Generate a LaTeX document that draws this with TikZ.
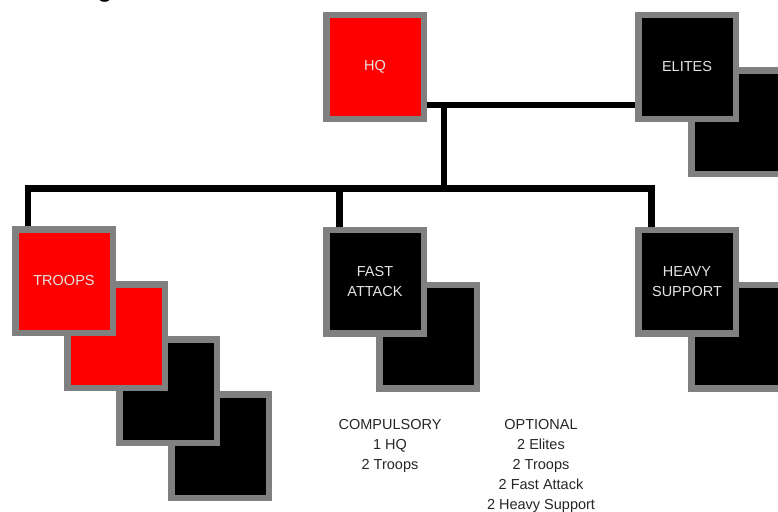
\documentclass[tikz,border=0pt]{standalone}
\usepackage{fontspec}
\setmainfont{Liberation Sans}
\usetikzlibrary{calc, backgrounds}
\definecolor{unitred}{RGB}{255,0,0}
\definecolor{rimgray}{RGB}{128,128,128}
\definecolor{captext}{RGB}{228,228,228}
\tikzset{
  unit/.style={rectangle, draw=rimgray, line width=6.5pt, minimum width=97.5pt,
    minimum height=103.5pt, inner sep=0pt, outer sep=0pt, align=center,
    text=captext, font=\fontsize{14.5}{20}\selectfont},
  redunit/.style={unit, fill=unitred},
  blackunit/.style={unit, fill=black},
  wire/.style={line width=6.5pt, black, line join=miter},
  note/.style={align=center, inner sep=0pt, text=black!85,
    font=\fontsize{14.5}{20}\selectfont},
}

\begin{document}
\begin{tikzpicture}[x=1pt, y=-1pt]
  \useasboundingbox (0,0) rectangle (778,511);
  \node[anchor=base, inner sep=0pt, font=\fontsize{28}{30}\selectfont] (title) at (105,-3.5) {g};
  % front row of slots
  \node[redunit] (hq) at (375,67) {HQ};
  \node[blackunit] (elites) at (687,67) {ELITES};
  \node[redunit] (troops) at (64,281) {TROOPS};
  \node[blackunit] (fast) at (375,281.5) {FAST\\ATTACK};
  \node[blackunit] (heavy) at (687,281.5) {HEAVY\\SUPPORT};
  % extra slots stacked behind
  \begin{scope}[on background layer]
    \foreach \k/\c in {3/black,2/black,1/unitred}
      \node[unit, fill=\c] (troops-\k) at ($(troops)+\k*(52,55)$) {};
    \node[blackunit] (elites-2) at ($(elites)+(53,55)$) {};
    \node[blackunit] (fast-2) at ($(fast)+(53,55)$) {};
    \node[blackunit] (heavy-2) at ($(heavy)+(53,55)$) {};
    % connectors
    \coordinate (top) at ($(hq.east)+(20,38)$);
    \coordinate (bus) at ($(hq.east)+(20,121.5)$);
    \draw[wire] ($(hq.east)+(0,38)$) -- ($(elites.west)+(0,38)$);
    \draw[wire] (top) -- (bus);
    \draw[wire] ($(troops.north west)+(12.5,0)$) |- (bus) -| ($(heavy.north west)+(13,0)$);
    \draw[wire] ($(fast.north west)+(13,0)$) |- (bus);
  \end{scope}
  % totals
  \node[note, anchor=north] (compulsory) at (390,419) {COMPULSORY\\1 HQ\\2 Troops};
  \node[note, anchor=north] (optional) at (541,419) {OPTIONAL\\2 Elites\\2 Troops\\2 Fast Attack\\2 Heavy Support};
\end{tikzpicture}
\end{document}
